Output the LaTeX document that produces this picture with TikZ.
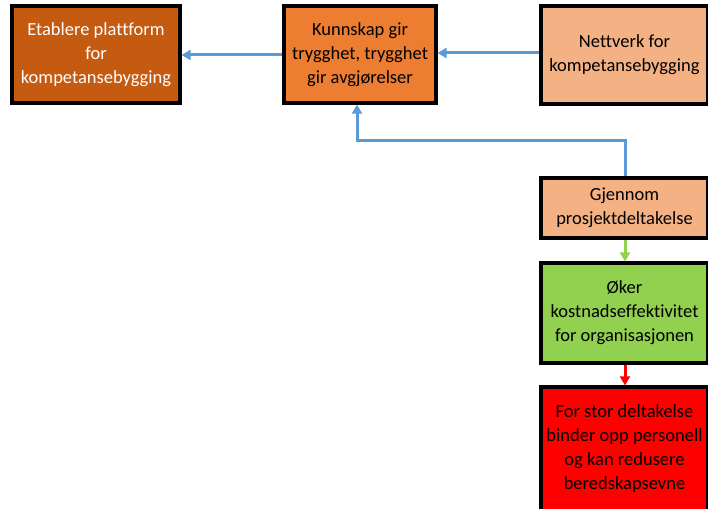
\documentclass[tikz,border=0pt]{standalone}
\usepackage{fontspec}
\setmainfont{Carlito}[Ligatures=NoCommon]
\usetikzlibrary{arrows.meta}
\definecolor{darkorange}{HTML}{C55A11}
\definecolor{midorange}{HTML}{ED7D31}
\definecolor{lightorange}{HTML}{F4B183}
\definecolor{leafgreen}{HTML}{92D050}
\definecolor{linkblue}{HTML}{5B9BD5}
% centred block of lines, lowered a little inside its box
\newcommand{\boxlines}[1]{\raisebox{-5pt}{\begin{tabular}{@{}c@{}}#1\end{tabular}}}
\tikzset{
  box/.style={draw=black, line width=3.2pt, rectangle, inner sep=0pt,
    font=\fontsize{18.5}{24}\selectfont},
  link/.style={line width=3pt, -{Triangle[length=9pt,width=10pt]}},
}
\begin{document}
\begin{tikzpicture}[x=1pt,y=-1pt]
\useasboundingbox (0,0) rectangle (708,508);
\clip (0,0) rectangle (708,508);
\fill[white] (0,0) rectangle (708,508);

\node[box, fill=darkorange, text=white, minimum width=168pt, minimum height=97pt] (plat) at (96,54.5)
  {\boxlines{Etablere plattform\\for\\kompetansebygging}};
\node[box, fill=midorange, minimum width=152pt, minimum height=97pt] (kunn) at (360,54.5)
  {\boxlines{Kunnskap gir\\trygghet, trygghet\\gir avgjørelser}};
\node[box, fill=lightorange, minimum width=167pt, minimum height=98pt] (nett) at (624.5,55)
  {\boxlines{Nettverk for\\kompetansebygging}};
\node[box, fill=lightorange, minimum width=167pt, minimum height=60pt] (gjen) at (624.5,208)
  {\boxlines{Gjennom\\prosjektdeltakelse}};
\node[box, fill=leafgreen, minimum width=167pt, minimum height=100pt] (oker) at (624.5,313)
  {\boxlines{Øker\\kostnadseffektivitet\\for organisasjonen}};
\node[box, fill=red, minimum width=167pt, minimum height=124pt] (stor) at (624.5,449)
  {\boxlines{For stor deltakelse\\binder opp personell\\og kan redusere\\beredskapsevne}};

\coordinate (bendR) at (625,140);
\coordinate (bendL) at (357,140);

\draw[link, draw=linkblue] (kunn.west |- 0,55) -- (plat.east |- 0,55);
\draw[link, draw=linkblue] (nett.west |- 0,53) -- (kunn.east |- 0,53);
\draw[link, draw=linkblue] (gjen.north -| bendR) -- (bendR) -- (bendL) -- (kunn.south -| bendL);
\draw[link, draw=leafgreen] (gjen.south -| bendR) -- (oker.north -| bendR);
\draw[link, draw=red] (oker.south -| bendR) -- (stor.north -| bendR);
\end{tikzpicture}
\end{document}
